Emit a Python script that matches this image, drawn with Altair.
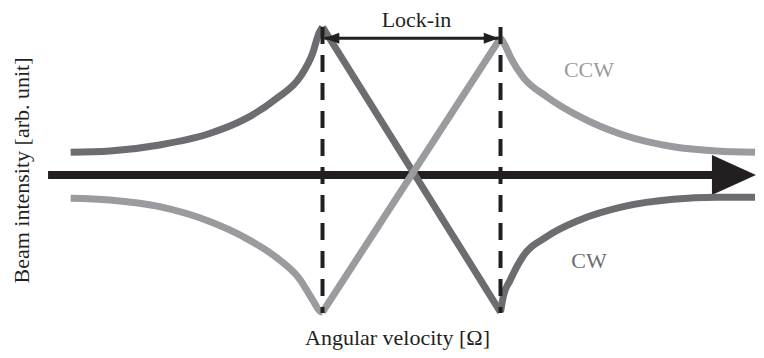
import altair as alt
import pandas as pd

# Angular velocity in units of the lock-in threshold, beam intensity in arbitrary units
cw_omega = [-3.83, -3.39, -2.83, -2.26, -1.89, -1.51, -1.25, -1.11, -1.04, -1.0,
            1.0, 1.03, 1.11, 1.25, 1.52, 1.89, 2.38, 2.94, 3.43, 3.86]
cw_intensity = [0.153, 0.162, 0.203, 0.282, 0.372, 0.520, 0.664, 0.824, 0.959, 1.0,
                -0.926, -0.824, -0.709, -0.552, -0.417, -0.304, -0.214, -0.164, -0.151, -0.151]
ccw_omega = [-3.83, -3.39, -2.83, -2.26, -1.89, -1.51, -1.25, -1.11, -1.02, -1.0,
             1.0, 1.05, 1.11, 1.25, 1.52, 1.89, 2.38, 2.94, 3.43, 3.86]
ccw_intensity = [-0.157, -0.169, -0.214, -0.316, -0.417, -0.561, -0.709, -0.845, -0.924, -0.926,
                 0.926, 0.878, 0.799, 0.664, 0.529, 0.394, 0.270, 0.191, 0.162, 0.153]
# index ranges of the pieces of each curve: below lock-in, inside lock-in, above lock-in
segments = [("below", 0, 9), ("lock", 9, 10), ("above", 10, 19)]

lock_in_omega = [-1.0, 1.0]
lock_in_span = [-0.932, 1.0]
lock_in_arrow_omega = [-0.98, 0.98]
lock_in_arrow_level = 0.924
axis_arrow_omega = [-4.084, 3.870]
axis_arrow_head_base = 3.40

series_labels = ["CCW", "CW"]
series_label_omega = [1.994, 1.994]
series_label_intensity = [0.662, -0.628]
lock_label = "Lock-in"
lock_label_pos = [0.056, 1.0]

DARK = "#6c6d70"
LIGHT = "#9a9b9e"
INK = "#231f20"
FONT = "Liberation Serif"

W, H = 748, 342
xs = alt.Scale(domain=[-4.534, 3.8708], nice=False, zero=False)
ys = alt.Scale(domain=[-1.1824, 1.1284], nice=False, zero=False)

x_axis = alt.Axis(title="Angular velocity [Ω]", labels=False, ticks=False, domain=False,
                  grid=False, titleX=389, titleY=-6, titleBaseline="alphabetic",
                  titleAlign="center", titleFont=FONT, titleFontSize=22,
                  titleFontWeight="normal", titleColor=INK)
y_axis = alt.Axis(title="Beam intensity [arb. unit]", labels=False, ticks=False, domain=False,
                  grid=False, titleX=20, titleY=162, titleAngle=270,
                  titleBaseline="alphabetic", titleAlign="center", titleFont=FONT,
                  titleFontSize=22, titleFontWeight="normal", titleColor=INK)


def X(f):
    return alt.X(f, type="quantitative", scale=xs, axis=x_axis)


def Y(f):
    return alt.Y(f, type="quantitative", scale=ys, axis=y_axis)


def curve_frame(omega, intensity):
    rows = []
    for name, a, b in segments:
        for k, i in enumerate(range(a, b + 1)):
            rows.append({"omega": omega[i], "intensity": intensity[i],
                         "segment": name, "order": k})
    return pd.DataFrame(rows)


cw_df = curve_frame(cw_omega, cw_intensity)
ccw_df = curve_frame(ccw_omega, ccw_intensity)

axis_df = pd.DataFrame({"x0": [axis_arrow_omega[0]], "x1": [axis_arrow_head_base],
                        "tip": [axis_arrow_omega[1]], "y": [0.0]})
dash_df = pd.DataFrame({"omega": lock_in_omega, "y0": [lock_in_span[1]] * 2,
                        "y1": [lock_in_span[0]] * 2})
lock_df = pd.DataFrame({"x0": [lock_in_arrow_omega[0]], "x1": [lock_in_arrow_omega[1]],
                        "y": [lock_in_arrow_level]})
label_df = pd.DataFrame({"label": series_labels, "omega": series_label_omega,
                         "intensity": series_label_intensity})
lock_label_df = pd.DataFrame({"label": [lock_label], "omega": [lock_label_pos[0]],
                              "intensity": [lock_label_pos[1]]})

axis_line = alt.Chart(axis_df).mark_rule(color=INK, strokeWidth=8).encode(
    x=X("x0"), x2="x1", y=Y("y"))
axis_head = alt.Chart(axis_df).mark_point(
    shape="M-2,-0.909L0,0L-2,0.909Z", size=1936, filled=True, color=INK, opacity=1,
    strokeWidth=0).encode(x=X("tip"), y=Y("y"))


def curve(df, color):
    return alt.Chart(df).mark_line(color=color, strokeWidth=7, interpolate="monotone").encode(
        x=X("omega"), y=Y("intensity"), detail="segment:N", order="order:Q")


cw_line = curve(cw_df, DARK)
ccw_line = curve(ccw_df, LIGHT)

dashes = alt.Chart(dash_df).mark_rule(color=INK, strokeWidth=4, strokeDash=[17, 11]).encode(
    x=X("omega"), y=Y("y0"), y2="y1")

lock_line = alt.Chart(lock_df).mark_rule(color=INK, strokeWidth=3).encode(
    x=X("x0"), x2="x1", y=Y("y"))
lock_left = alt.Chart(lock_df).mark_point(
    shape="M0,0L2,-0.73L2,0.73Z", size=225, filled=True, color=INK, opacity=1,
    strokeWidth=0).encode(x=X("x0"), y=Y("y"))
lock_right = alt.Chart(lock_df).mark_point(
    shape="M0,0L-2,-0.73L-2,0.73Z", size=225, filled=True, color=INK, opacity=1,
    strokeWidth=0).encode(x=X("x1"), y=Y("y"))

series_text = alt.Chart(label_df).mark_text(
    font=FONT, fontSize=22, align="center", baseline="alphabetic").encode(
    x=X("omega"), y=Y("intensity"), text="label:N",
    color=alt.Color("label:N", scale=alt.Scale(domain=["CCW", "CW"], range=[LIGHT, DARK]),
                    legend=None))
lock_text = alt.Chart(lock_label_df).mark_text(
    font=FONT, fontSize=22, align="center", baseline="alphabetic", color=INK).encode(
    x=X("omega"), y=Y("intensity"), text="label:N")

chart = alt.layer(
    axis_line, axis_head, cw_line, ccw_line, dashes, lock_line, lock_left, lock_right,
    series_text, lock_text
).properties(
    width=W, height=H, padding=0, autosize=alt.AutoSizeParams(type="none"),
    background="white"
).configure_view(stroke=None)

chart.save("out.html", embed_options={"renderer": "svg", "actions": False})
